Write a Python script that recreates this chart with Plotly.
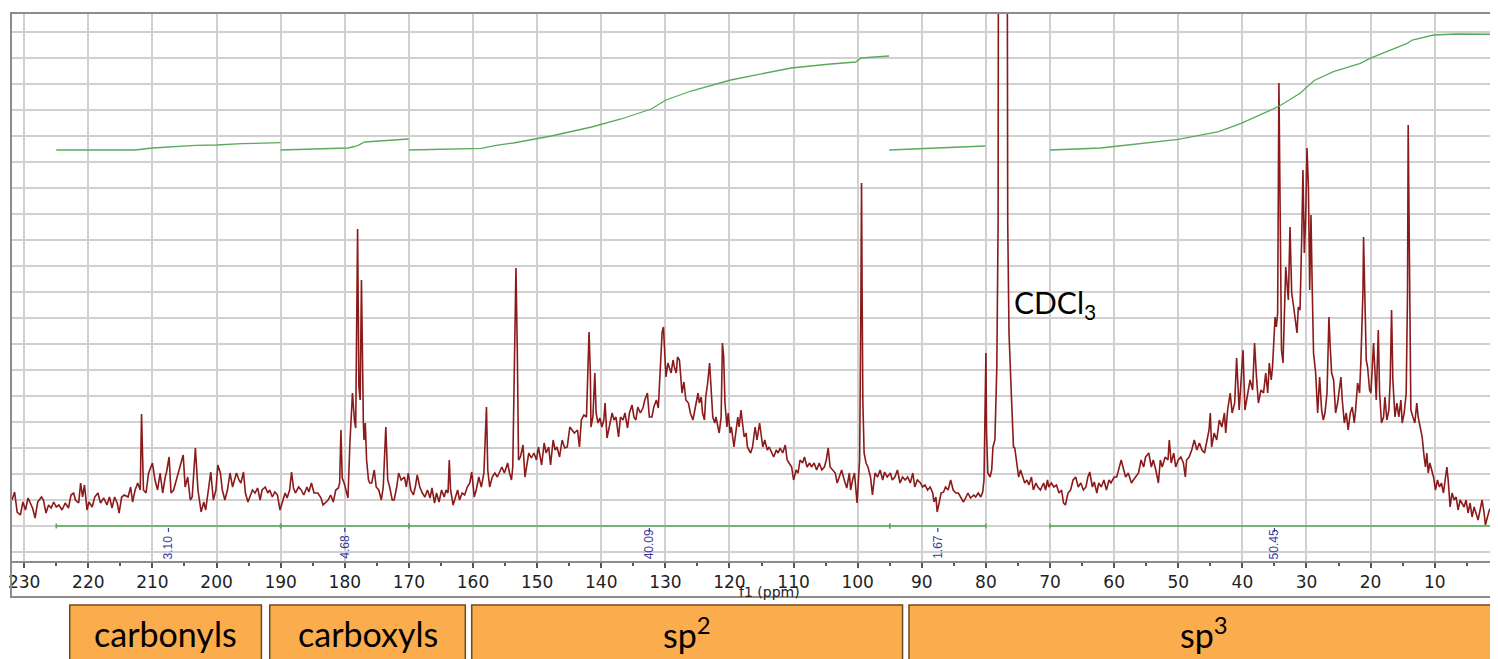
import plotly.graph_objects as go

# ---------------- data ----------------
X_RANGE = [232.06, 0.13]          # ppm, reversed axis
Y_RANGE = [-9, 539]               # arbitrary intensity units

# 13C spectrum (ppm, intensity), split by region
SPEC_A = [(231.9,52),(231.5,60),(231.1,40),(230.6,37),(230.2,50),(229.8,42),(229.4,54),(229.0,49),(228.7,44),(228.3,34),
(227.9,50),(227.3,55),(227.0,52),(226.6,39),(226.2,47),(225.8,44),(225.4,50),(225.0,45),(224.6,47),(224.1,42),
(223.6,49),(223.1,44),(222.7,57),(222.3,59),(222.0,52),(221.5,49),(221.2,69),(220.9,55),(220.6,67),(220.2,42),
(219.9,50),(219.4,45),(219.0,55),(218.5,59),(218.1,49),(217.6,54),(217.1,47),(216.7,55),(216.3,44),(215.9,55),
(215.5,49),(215.2,39),(214.8,55),(214.4,57),(213.8,55),(213.4,65),(213.1,50),(212.7,62),(212.3,69),(211.9,62),
(211.7,138),(211.4,62),(211.0,59),(210.6,79),(210.2,85),(210.0,89),(209.6,72),(209.2,62),(208.8,79),(208.4,59),
(208.0,75),(207.8,80),(207.4,95),(207.1,59),(206.7,62),(206.4,69),(206.0,79),(205.5,89),(205.2,97),(204.9,65),
(204.5,75),(204.1,52),(203.8,55),(203.3,104),(202.9,62),(202.4,40),(202.0,50),(201.7,42),(201.3,62),(200.9,80),
(200.5,52),(200.1,62),(199.8,87),(199.4,79),(199.1,62),(198.7,52),(198.3,62),(197.9,79),(197.5,65),(197.1,75),
(196.9,79),(196.5,72),(196.2,69),(195.8,80),(195.5,59),(195.1,50),(194.8,55),(194.4,62),(194.0,59),(193.6,64),
(193.2,52),(192.9,62),(192.4,65),(192.0,59),(191.7,62),(191.3,55),(190.9,60),(190.5,57),(190.1,42),(189.7,52),
(189.3,59),(189.0,54),(188.6,62),(188.3,80),(188.0,64),(187.7,59),(187.2,65),(186.8,62),(186.4,57),(185.9,65),
(185.6,60),(185.2,69),(184.8,59),(184.2,59),(183.7,54),(183.4,47),(183.0,50),(182.6,52),(182.2,57),(181.8,50),
(181.4,62),(181.0,64),(180.8,69),(180.6,122),(180.4,74),(180.1,69),(179.7,59),(179.5,54),(179.2,109),(178.8,159),
(178.5,132),(178.3,124),(178.0,323),(177.8,165),(177.6,152),(177.4,272),(177.1,129),(177.0,112),(176.8,129),(176.6,92),
(176.3,72),(176.1,69)]

SPEC_B = [(175.8,69),(175.4,82),(175.1,65),(174.7,62),(174.3,52),(174.0,65),(173.6,125),(173.3,72),(173.0,65),(172.6,52),
(172.3,52),(171.9,65),(171.6,79),(171.2,72),(170.7,75),(170.4,65),(170.1,79),(169.7,62),(169.3,57),(169.0,65),
(168.7,77),(168.3,65),(167.9,59),(167.5,55),(167.1,62),(166.7,54),(166.4,64),(166.0,49),(165.7,59),(165.3,50),
(164.9,62),(164.5,55),(164.2,62),(163.9,59),(163.7,92),(163.5,62),(163.1,47),(162.7,55),(162.4,62),(162.1,52),
(161.7,59),(161.3,57),(160.9,65),(160.5,69),(160.2,80),(159.8,55),(159.5,62),(159.1,75),(158.7,65),(158.3,79),
(157.9,145),(157.7,82),(157.4,65),(157.0,75),(156.6,79),(156.2,75),(155.8,80),(155.5,85),(155.1,79),(154.6,89),
(154.3,79),(154.0,72),(153.8,85),(153.5,209),(153.3,284),(153.1,205),(152.9,92),(152.6,95),(152.2,107),(151.9,75),
(151.6,85),(151.3,99),(150.9,94),(150.5,99),(150.1,92),(149.8,105),(149.3,87),(148.9,109),(148.6,99),(148.2,105),
(147.9,87),(147.5,112),(147.2,102),(146.9,105),(146.5,95),(146.1,112),(145.7,104),(145.3,105),(144.9,125),(144.6,122),
(144.2,119),(143.7,122),(143.4,105),(143.1,132),(142.7,137),(142.3,135),(142.1,185),(141.9,220),(141.7,179),(141.6,125),
(141.3,135),(141.0,179),(140.8,139),(140.5,129),(140.2,134),(139.9,125),(139.6,132),(139.4,149),(139.1,114),(138.7,125),
(138.3,139),(138.0,132),(137.7,135),(137.3,115),(137.0,135),(136.6,132),(136.3,139),(135.9,124),(135.6,139),(135.2,147),
(134.9,135),(134.6,132),(134.3,145),(133.9,139),(133.5,144),(133.2,152),(132.8,159),(132.5,135),(132.1,135),(131.8,145),
(131.4,152),(131.1,144),(130.8,179),(130.5,220),(130.3,225),(130.1,205),(129.9,175),(129.6,189),(129.4,185),(129.1,179),
(128.8,192),(128.6,185),(128.3,179),(128.1,195),(127.8,192),(127.4,159),(127.1,170),(126.8,152),(126.4,149),(126.1,139),
(125.7,132),(125.5,139),(125.2,152),(124.9,159),(124.7,149),(124.4,155),(124.2,139),(123.9,132),(123.7,155),(123.4,169),
(123.1,189),(122.9,165),(122.6,135),(122.3,129),(122.1,135),(121.8,125),(121.6,119),(121.3,135),(121.1,209),(120.9,195),
(120.7,149),(120.4,125),(120.2,139),(119.9,119),(119.7,125),(119.3,105),(119.0,119),(118.7,135),(118.5,125),(118.2,142),
(117.9,125),(117.7,115),(117.4,119),(117.2,105),(116.7,99)]

SPEC_C = [(116.4,105),(116.0,125),(115.7,112),(115.3,129),(115.1,119),(114.8,105),(114.5,112),(114.1,102),(113.8,105),(113.4,99),
(113.1,95),(112.7,102),(112.4,99),(112.1,104),(111.7,99),(111.3,107),(111.0,92),(110.7,89),(110.3,85),(110.0,72),
(109.6,82),(109.3,79),(109.0,92),(108.6,89),(108.3,95),(107.9,85),(107.5,89),(107.2,85),(106.8,89),(106.4,82),
(106.0,89),(105.6,82),(105.2,85),(104.9,92),(104.6,104),(104.3,85),(103.9,82),(103.5,79),(103.2,69),(102.9,75),
(102.5,82),(102.1,72),(101.7,64),(101.3,79),(101.1,62),(100.8,72),(100.5,79),(100.1,49),(99.9,79),(99.7,92),
(99.5,250),(99.4,369),(99.3,250),(99.2,152),(99.0,99),(98.7,89),(98.4,85),(98.0,75),(97.7,57),(97.3,79),
(96.9,75),(96.5,82),(96.1,72),(95.8,80),(95.4,75),(94.9,79),(94.6,72),(94.2,75),(93.8,82),(93.4,69),
(93.0,75),(92.6,72),(92.2,75),(91.8,69),(91.4,79),(91.1,65),(90.7,72),(90.2,69),(89.9,65),(89.5,67),
(89.1,62),(88.7,65),(88.3,59),(88.1,50),(87.8,55),(87.6,40),(87.3,49),(87.0,59),(86.6,60),(86.3,65),
(85.9,62),(85.5,72),(85.1,62),(84.7,59),(84.3,59),(83.9,54),(83.5,50),(83.1,55),(82.8,59),(82.4,54),
(81.9,57),(81.6,55),(81.2,59),(80.8,55),(80.5,60),(80.3,72),(80.1,145),(80.0,199),(79.9,119),(79.7,79),
(79.35,75),(79.1,82),(78.9,105),(78.6,112),(78.3,185),(78.1,330),(78.0,900),(76.75,900),(76.6,330),(76.4,219),
(76.0,152),(75.7,105),(75.5,104),(75.2,89),(74.9,75),(74.6,82),(74.3,75),(73.95,69),(73.6,72),(73.3,67),
(72.9,75),(72.6,62),(72.2,69),(71.9,65),(71.5,62),(71.0,69),(70.7,62),(70.4,72),(70.2,65),(69.8,69),
(69.4,65),(69.0,67),(68.6,59),(68.2,62),(67.9,49),(67.6,47),(67.2,59),(66.8,62),(66.4,72),(66.0,75),
(65.6,65),(65.2,69),(64.8,62),(64.4,65),(64.1,75),(63.8,80),(63.4,65),(63.1,70),(62.7,59),(62.4,69),
(62.0,65),(61.6,72),(61.2,62),(60.8,72),(60.5,69),(60.0,75),(59.6,75),(59.3,82)]

SPEC_D = [(58.9,92),(58.5,82),(58.2,75),(57.8,79),(57.3,69),(57.0,72),(56.6,75),(56.2,79),(55.8,92),(55.4,85),
(55.1,95),(54.6,99),(54.2,85),(53.9,92),(53.5,82),(53.1,69),(52.8,92),(52.5,85),(52.04,95),(51.6,92),
(51.4,112),(51.1,89),(50.7,99),(50.4,85),(50.0,92),(49.6,95),(49.2,89),(48.9,75),(48.7,92),(48.3,95),
(47.9,102),(47.5,112),(47.1,102),(46.7,109),(46.3,102),(45.9,99),(45.6,109),(45.2,122),(45.0,139),(44.8,105),
(44.4,119),(44.0,112),(43.6,132),(43.2,125),(42.8,139),(42.6,119),(42.3,142),(41.9,159),(41.6,139),(41.2,149),
(40.9,194),(40.5,142),(40.2,172),(39.9,202),(39.6,142),(39.2,159),(38.8,172),(38.4,162),(38.1,209),(37.8,175),
(37.5,149),(37.1,162),(36.7,159),(36.36,179),(36.05,159),(35.8,189),(35.5,172),(35.3,185),(35.1,209),(34.9,235),
(34.7,225),(34.5,239),(34.3,469),(34.1,292),(33.9,202),(33.66,189),(33.45,245),(33.24,285),(33.04,269),(32.83,252),
(32.57,325),(32.31,259),(32.0,245),(31.69,225),(31.48,219),(31.27,245),(31.01,242),(30.75,312),(30.55,382),(30.34,299),
(30.13,335),(29.92,404),(29.7,365),(29.5,262),(29.3,337),(29.1,262),(28.9,199),(28.57,179),(28.26,139),(27.95,175),
(27.64,142),(27.38,132),(27.12,139),(26.8,159),(26.5,235),(26.3,205),(26.08,179),(25.77,172),(25.46,139),(25.15,149),
(24.94,159),(24.63,175),(24.42,152),(24.1,129),(23.8,139),(23.5,122),(23.17,139),(22.86,145),(22.55,129),(22.34,142),
(22.03,169),(21.72,159),(21.51,192),(21.2,259),(21.1,315),(20.9,259),(20.68,192),(20.47,185),(20.16,162),(19.95,159),
(19.75,185),(19.54,209),(19.33,182),(19.12,152),(18.8,222),(18.6,159),(18.3,129),(17.98,135),(17.77,155),(17.46,132),
(17.15,142),(16.94,172),(16.73,242),(16.53,172),(16.2,135),(15.9,149),(15.6,135),(15.28,152),(15.07,129),(14.76,139),
(14.45,159),(14.24,259),(14.14,427),(13.93,259),(13.72,142),(13.4,135),(13.1,129),(12.8,149),(12.58,135),(12.27,125),
(11.96,115),(11.65,95),(11.44,85),(11.23,99),(11.02,79),(10.76,89),(10.5,82),(10.19,75),(9.88,62),(9.57,72),
(9.26,65),(8.95,69),(8.64,59),(8.3,75),(8.1,85),(7.9,72),(7.6,45),(7.3,59),(6.97,52),(6.66,55),
(6.35,42),(6.04,52),(5.73,49),(5.42,45),(5.11,52),(4.8,39),(4.48,49),(4.17,35),(3.86,45),(3.55,39),
(3.24,32),(2.92,42),(2.61,52),(2.3,39),(2.09,27),(1.78,35),(1.47,42),(1.16,45),(0.85,49),(0.54,59),
(0.38,92),(0.27,462),(0.17,462),(0.05,300)]

# integral curves (ppm, level) per integration region
INTEGRAL_CURVES = [
    [(225.0,402),(212.7,402),(210.0,404),(203.3,406.7),(200.0,407),(196.1,408.3),(190.05,409.3)],
    [(190.0,402),(179.5,404),(178.5,405.5),(177.9,406.7),(176.9,410),(173.5,411.5),(170.06,413)],
    [(170.0,402),(158.7,403.6),(156.4,406.7),(153.7,409),(147.8,416),(141.5,425),(136.9,433),(132.2,443),
     (129.9,452),(126.0,461),(119.8,472),(115.1,478),(110.4,484),(104.2,488),(100.3,490),(99.5,494),(95.1,496)],
    [(95.1,402),(87.5,404),(80.1,406)],
    [(70.0,402),(62.1,404),(59.3,406),(50.0,412.7),(43.7,420.3),(40.2,428.7),(34.4,445.3),(31.0,458.7),
     (28.8,471.5),(25.8,480.3),(21.6,488.7),(20.1,493.7),(14.3,508.7),(13.5,512),(10.2,517),(6.5,518),(0.3,517.7)],
]
INTEGRAL_RANGES = [(225, 190), (190, 170), (170, 95), (95, 80), (70, 0)]
INTEGRAL_VALUES = ["3.10", "4.68", "40.09", "1.67", "50.45"]
INTEGRAL_BAR_LEVEL = 26

REGIONS = [("carbonyls", 222.9, 193.0), ("carboxyls", 191.7, 161.2),
           ("sp<sup>2</sup>", 160.2, 93.0), ("sp<sup>3</sup>", 92.0, 0.0)]
SOLVENT_LABEL = ("CDCl<sub>3</sub>", 76.0, 248)
AXIS_TITLE = ("f1 (ppm)", 113.8)

# ---------------- styles ----------------
SPEC_COLOR = "#8b1a1a"
INT_COLOR = "#5aaa5a"
INT_TEXT = "#3b3b9c"
GRID = "#d0d0d0"
FRAME = "#8c8c8c"
BOX_FILL = "#fbac4c"
BOX_LINE = "#6e4b1f"

fig = go.Figure()

spec = SPEC_A + SPEC_B + SPEC_C + SPEC_D
fig.add_trace(go.Scatter(x=[p for p, _ in spec], y=[v for _, v in spec], mode="lines",
                         line=dict(color=SPEC_COLOR, width=1.6), hoverinfo="skip"))

ix, iy = [], []
for seg in INTEGRAL_CURVES:
    ix += [p for p, _ in seg] + [None]
    iy += [v for _, v in seg] + [None]
fig.add_trace(go.Scatter(x=ix, y=iy, mode="lines", line=dict(color=INT_COLOR, width=1.3),
                         hoverinfo="skip", connectgaps=False))

# integral bar with end ticks
bx, by = [], []
for a, b in INTEGRAL_RANGES:
    bx += [a, b, None]
    by += [INTEGRAL_BAR_LEVEL, INTEGRAL_BAR_LEVEL, None]
    for e in (a, b):
        bx += [e, e, None]
        by += [INTEGRAL_BAR_LEVEL - 2.5, INTEGRAL_BAR_LEVEL + 2.5, None]
fig.add_trace(go.Scatter(x=bx, y=by, mode="lines", line=dict(color=INT_COLOR, width=1.6),
                         hoverinfo="skip"))

# integral value dashes
dx, dy = [], []
for a, b in INTEGRAL_RANGES:
    c = (a + b) / 2
    dx += [c, c, None]
    dy += [INTEGRAL_BAR_LEVEL - 2, INTEGRAL_BAR_LEVEL - 6, None]
fig.add_trace(go.Scatter(x=dx, y=dy, mode="lines", line=dict(color=INT_TEXT, width=1.2),
                         hoverinfo="skip"))

annotations = []
for (a, b), val in zip(INTEGRAL_RANGES, INTEGRAL_VALUES):
    annotations.append(dict(x=(a + b) / 2, y=Y_RANGE[0] + 1, xref="x", yref="y", text=val,
                            textangle=-90, showarrow=False, xanchor="center", yanchor="bottom",
                            borderpad=0,
                            font=dict(family="Liberation Sans", size=12, color=INT_TEXT)))

annotations.append(dict(x=SOLVENT_LABEL[1], y=SOLVENT_LABEL[2], xref="x", yref="y",
                        text=SOLVENT_LABEL[0], showarrow=False, xanchor="left", yanchor="middle",
                        font=dict(family="Lato", size=30, color="black")))

plot_h = 548.0
def py_to_paper(offset_below_axis):
    return -offset_below_axis / plot_h

annotations.append(dict(x=AXIS_TITLE[1], y=py_to_paper(31), xref="x", yref="paper",
                        text=AXIS_TITLE[0], showarrow=False, xanchor="center", yanchor="middle",
                        font=dict(family="DejaVu Sans", size=14, color="#222")))

shapes = []
# outer frame around plot + axis labels
shapes.append(dict(type="rect", xref="paper", yref="paper", x0=0, x1=1.05,
                   y0=py_to_paper(36), y1=1, line=dict(color=FRAME, width=2),
                   fillcolor="rgba(0,0,0,0)", layer="above"))
for name, a, b in REGIONS:
    shapes.append(dict(type="rect", xref="x", yref="paper", x0=a, x1=b,
                       y0=py_to_paper(44), y1=py_to_paper(120),
                       line=dict(color=BOX_LINE, width=1.5), fillcolor=BOX_FILL, layer="above"))
    annotations.append(dict(x=(a + b) / 2, y=py_to_paper(72), xref="x", yref="paper", text=name,
                            showarrow=False, xanchor="center", yanchor="middle",
                            font=dict(family="Lato", size=34, color="black")))

# right-edge "0" tick label (tick sits just past the visible range)
annotations.append(dict(x=(X_RANGE[0] - 0) / (X_RANGE[0] - X_RANGE[1]), y=py_to_paper(17),
                        xref="paper", yref="paper", text="0", showarrow=False,
                        xanchor="center", yanchor="middle",
                        font=dict(family="DejaVu Sans", size=17, color="#222")))

# the page body has an 8px margin, so the figure is sized to end at the window edge
fig.update_layout(
    width=1490, height=651,
    margin=dict(l=1, r=0, t=5, b=98),
    paper_bgcolor="white", plot_bgcolor="white",
    showlegend=False,
    shapes=shapes, annotations=annotations,
    xaxis=dict(range=X_RANGE, dtick=10, tick0=0, showgrid=True, gridcolor=GRID, gridwidth=1.5,
               ticks="outside", ticklen=5, tickwidth=1.5, tickcolor="#555",
               minor=dict(ticks="outside", dtick=5, tick0=0, ticklen=3, tickcolor="#555",
                          showgrid=False),
               showline=True, linecolor=FRAME, linewidth=2, zeroline=False,
               ticklabeloverflow="allow",
               tickfont=dict(family="DejaVu Sans", size=17, color="#222")),
    yaxis=dict(range=Y_RANGE, dtick=26, tick0=0, showgrid=True, gridcolor=GRID, gridwidth=1.5,
               showticklabels=False, ticks="", zeroline=False, showline=False),
)

fig.write_html("out.html", config={"displayModeBar": False})
